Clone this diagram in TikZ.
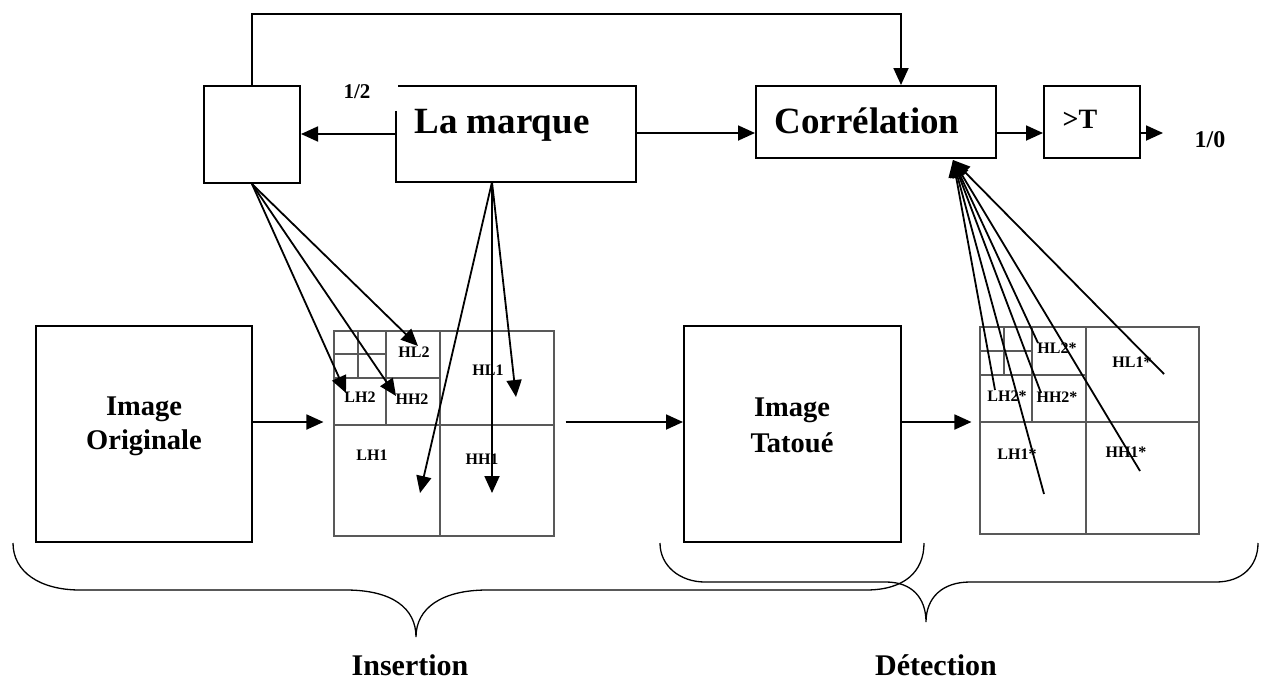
\documentclass[tikz,border=0pt]{standalone}
\usepackage{fontspec}
\setmainfont{Liberation Serif}
\usetikzlibrary{arrows.meta}
\begin{document}
\begin{tikzpicture}[x=1pt,y=-1pt,
  box/.style={draw,line width=2pt,inner sep=0pt},
  nobox/.style={inner sep=0pt},
  arr/.style={line width=1.8pt,-{Triangle[length=17pt,width=15pt]}},
  gline/.style={draw=black!65,line width=1.1pt},
  sb/.style={font=\fontsize{16}{16}\selectfont\bfseries,inner sep=0pt},
  big/.style={font=\fontsize{37}{40}\selectfont\bfseries,inner sep=0pt,anchor=base},
  mid/.style={font=\fontsize{28.5}{33}\selectfont\bfseries,inner sep=0pt,anchor=base},
  sml/.style={font=\fontsize{21}{24}\selectfont\bfseries,inner sep=0pt,anchor=base},
  brace/.style={line width=1.3pt}]
\useasboundingbox (0,0) rectangle (1263,681);

% --- top row boxes
\node[box,minimum width=96pt,minimum height=97pt] (small) at (252,134.5) {};
\node[nobox,minimum width=240pt,minimum height=96pt] (marque) at (516,134) {};
\draw[line width=2pt] ([yshift=-25pt]marque.north west) -- (marque.south west)
  -- (marque.south east) -- (marque.north east) -- ([xshift=2pt]marque.north west);
\node[big] (marquetxt) at (502,133) {La marque};
\node[sml] (half) at (357,98) {1/2};
\node[box,minimum width=240pt,minimum height=72pt] (corr) at (876,122) {};
\node[big] (corrtxt) at (867,133) {Corrélation};
\node[box,minimum width=96pt,minimum height=72pt] (thr) at (1092,122) {};
\node[font=\fontsize{28}{30}\selectfont\bfseries,inner sep=0pt,anchor=base] (thrtxt) at (1080,128) {>T};
\node[font=\fontsize{24}{26}\selectfont\bfseries,inner sep=0pt,anchor=base] (res) at (1210,147) {1/0};

% --- bottom row boxes
\node[box,minimum width=216pt,minimum height=216pt] (orig) at (144,434) {};
\node[mid] (origa) at (144,415) {Image};
\node[mid] (origb) at (144,449) {Originale};
\node[box,minimum width=217pt,minimum height=216pt] (tat) at (792.5,434) {};
\node[mid] (tata) at (792,416) {Image};
\node[mid] (tatb) at (792,452) {Tatoué};

% --- wavelet grid 1
\node[gline,fill=white,minimum width=220pt,minimum height=205pt,inner sep=0pt] (g1) at (444,433.5) {};
\draw[gline] (440,331) -- (440,536) (334,425) -- (554,425)
  (386,331) -- (386,425) (334,378) -- (440,378)
  (358,331) -- (358,378) (334,354) -- (386,354);
\node[sb] (hlb) at (414,352) {HL2};
\node[sb] (hla) at (488,370) {HL1};
\node[sb] (lhb) at (360,397) {LH2};
\node[sb] (hhb) at (412,399) {HH2};
\node[sb] (lha) at (372,455) {LH1};
\node[sb] (hha) at (482,459) {HH1};

% --- wavelet grid 2
\node[gline,fill=white,minimum width=219pt,minimum height=207pt,inner sep=0pt] (g2) at (1089.5,430.5) {};
\draw[gline] (1086,327) -- (1086,534) (980,422) -- (1199,422)
  (1032,327) -- (1032,422) (980,375) -- (1086,375)
  (1004,327) -- (1004,375) (980,351) -- (1032,351);
\node[sb] (shlb) at (1057,348) {HL2*};
\node[sb] (shla) at (1132,362) {HL1*};
\node[sb] (slhb) at (1007,396) {LH2*};
\node[sb] (shhb) at (1057,397) {HH2*};
\node[sb] (slha) at (1017,454) {LH1*};
\node[sb] (shha) at (1126,452) {HH1*};

% --- connectors of the top row
\coordinate (fbk) at (901,14);
\draw[arr] (small.north) |- (fbk) -- (fbk |- corr.north);
\draw[arr] (marque.west) -- (small.east |- marque.west);
\draw[arr] ([yshift=1pt]marque.east) -- ([yshift=-11pt]corr.west);
\draw[arr] ([yshift=-11pt]corr.east) -- ([yshift=-11pt]thr.west);
\coordinate (out) at (1163,133);
\draw[arr] ([yshift=-11pt]thr.east) -- (out);

% --- connectors of the bottom row
\draw[arr] ([yshift=12pt]orig.east) -- ([xshift=-10pt,yshift=11.5pt]g1.west);
\draw[arr] ([xshift=11pt,yshift=11.5pt]g1.east) -- ([yshift=12pt]tat.west);
\draw[arr] ([yshift=12pt]tat.east) -- ([xshift=-8pt,yshift=8.5pt]g2.west);

% --- insertion fans
\coordinate (t1) at (418,346);
\coordinate (t2) at (346,393);
\coordinate (t3) at (396,396);
\draw[arr] (small.south) -- (t1);
\draw[arr] (small.south) -- (t2);
\draw[arr] (small.south) -- (t3);
\coordinate (mo) at (492,182);
\coordinate (m1) at (420,493);
\coordinate (m2) at (492,493);
\coordinate (m3) at (516,397);
\draw[arr] (mo) -- (m1);
\draw[arr] (mo) -- (m2);
\draw[arr] (mo) -- (m3);

% --- detection fan
\coordinate (cin) at (953,160);
\coordinate (d1) at (1164,374);
\coordinate (d2) at (1140,471);
\coordinate (d3) at (1044,494);
\coordinate (d4) at (995,390);
\coordinate (d5) at (1041,393);
\coordinate (d6) at (1038,343);
\foreach \d in {d1,d2,d3,d4,d5,d6} \draw[arr] (\d) -- (cin);

% --- braces
\draw[brace] (13,543) .. controls (13,572) and (40,590) .. (80,590) -- (346,590)
  .. controls (392,590) and (416,608) .. (416,637)
  .. controls (416,608) and (442,590) .. (487,590) -- (866,590)
  .. controls (904,590) and (924,572) .. (924,543);
\draw[brace] (660,543) .. controls (660,566) and (680,582) .. (705,582) -- (886,582)
  .. controls (912,582) and (926,598) .. (926,622)
  .. controls (926,598) and (942,582) .. (970,582) -- (1216,582)
  .. controls (1242,582) and (1258,566) .. (1258,543);
\node[font=\fontsize{30}{32}\selectfont\bfseries,inner sep=0pt,anchor=base] (ins) at (410,675) {Insertion};
\node[font=\fontsize{30}{32}\selectfont\bfseries,inner sep=0pt,anchor=base] (det) at (936,675) {Détection};
\end{tikzpicture}
\end{document}
